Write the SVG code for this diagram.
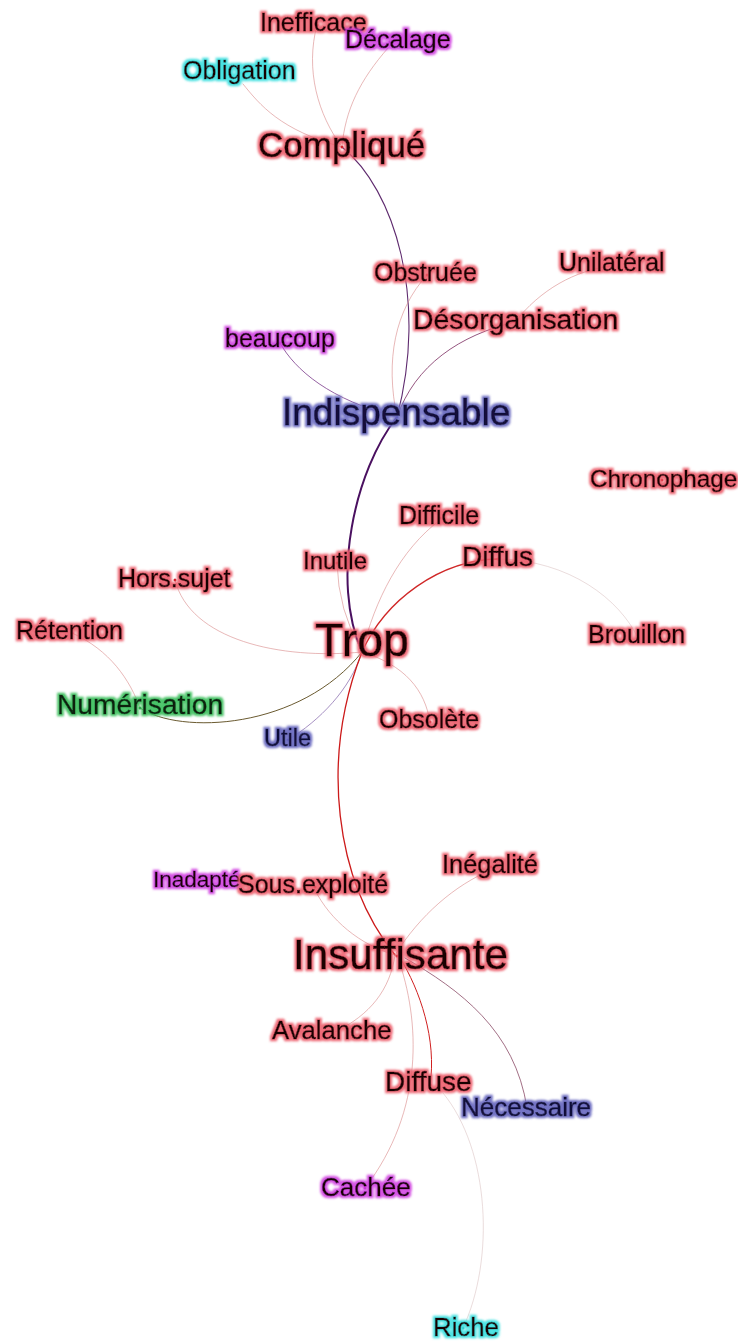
<svg xmlns="http://www.w3.org/2000/svg" width="738" height="1344" viewBox="0 0 738 1344">
<style>
text{font-family:"Liberation Sans",Arial,sans-serif;fill:#1a0606;stroke:#1a0606;stroke-width:0.5;}
.red text{filter:url(#hRed);}
.mag text{filter:url(#hMag);}
.cyan text{filter:url(#hCyan);}
.blue text{filter:url(#hBlue);fill:#12103a;stroke:#12103a;}
.green text{filter:url(#hGreen);fill:#0a200e;stroke:#0a200e;}
.dot{fill:#d0202a;}
.blue .dot{fill:#3030b0;}
.green .dot{fill:#20a040;}
.mag .dot{fill:#b020c0;}
.cyan .dot{fill:#20b0b0;}
#edges path{fill:none;stroke-linecap:round;}
.thin{stroke:#d88888;stroke-width:0.6;}
.pale{stroke:#dcc4c4;stroke-width:0.6;}
</style>
<defs>
<filter id="hRed" x="-20%" y="-40%" width="140%" height="180%"><feMorphology in="SourceAlpha" operator="dilate" radius="2.4" result="d"/><feGaussianBlur in="d" stdDeviation="1.2" result="b"/><feFlood flood-color="#ec5a68" flood-opacity="0.9"/><feComposite in2="b" operator="in" result="h"/><feMerge><feMergeNode in="h"/><feMergeNode in="SourceGraphic"/></feMerge></filter>
<filter id="hMag" x="-20%" y="-40%" width="140%" height="180%"><feMorphology in="SourceAlpha" operator="dilate" radius="2.4" result="d"/><feGaussianBlur in="d" stdDeviation="1.2" result="b"/><feFlood flood-color="#d040e0" flood-opacity="0.9"/><feComposite in2="b" operator="in" result="h"/><feMerge><feMergeNode in="h"/><feMergeNode in="SourceGraphic"/></feMerge></filter>
<filter id="hCyan" x="-20%" y="-40%" width="140%" height="180%"><feMorphology in="SourceAlpha" operator="dilate" radius="2.4" result="d"/><feGaussianBlur in="d" stdDeviation="1.2" result="b"/><feFlood flood-color="#40e0e0" flood-opacity="0.95"/><feComposite in2="b" operator="in" result="h"/><feMerge><feMergeNode in="h"/><feMergeNode in="SourceGraphic"/></feMerge></filter>
<filter id="hBlue" x="-20%" y="-40%" width="140%" height="180%"><feMorphology in="SourceAlpha" operator="dilate" radius="2.4" result="d"/><feGaussianBlur in="d" stdDeviation="1.2" result="b"/><feFlood flood-color="#6a6ac0" flood-opacity="0.95"/><feComposite in2="b" operator="in" result="h"/><feMerge><feMergeNode in="h"/><feMergeNode in="SourceGraphic"/></feMerge></filter>
<filter id="hGreen" x="-20%" y="-40%" width="140%" height="180%"><feMorphology in="SourceAlpha" operator="dilate" radius="2.4" result="d"/><feGaussianBlur in="d" stdDeviation="1.2" result="b"/><feFlood flood-color="#40c060" flood-opacity="0.95"/><feComposite in2="b" operator="in" result="h"/><feMerge><feMergeNode in="h"/><feMergeNode in="SourceGraphic"/></feMerge></filter>
</defs>
<rect width="738" height="1344" fill="#ffffff"/>
<g id="edges">
<path class="thin" d="M317,25 C305,70 318,115 342,147"/>
<path class="thin" stroke="#d890b0" d="M388,48 C360,80 345,110 342,147"/>
<path class="thin" stroke="#d8b8c0" d="M243,84 C260,105 280,130 342,147"/>
<path d="M342,147 C395,190 428,300 397,417" stroke="#5e2a6e" stroke-width="1.1"/>
<path class="thin" stroke="#b07890" d="M427,275 C395,310 385,360 397,417"/>
<path class="thin" stroke="#b06070" d="M612,266 C575,270 540,290 515,322"/>
<path d="M515,322 C460,335 415,365 397,417" stroke="#7a2a5e" stroke-width="0.8"/>
<path d="M280,343 C295,370 330,400 397,417" stroke="#7a3a8a" stroke-width="0.8"/>
<path d="M397,417 C355,470 330,580 362,652" stroke="#4a1060" stroke-width="2"/>
<path class="thin" d="M337,563 Q338,610 362,652"/>
<path class="thin" stroke="#e09090" d="M440,520 C400,550 375,600 362,652"/>
<path d="M498,559 C440,560 385,600 362,652" stroke="#d02828" stroke-width="1.3"/>
<path class="pale" stroke="#e0b0b0" d="M498,559 C570,560 620,600 638,638"/>
<path class="thin" d="M175,580 C190,640 280,660 362,652"/>
<path class="thin" stroke="#b09080" d="M72,633 C110,650 130,680 140,708"/>
<path d="M140,708 C180,735 300,730 362,652" stroke="#6a5a30" stroke-width="1"/>
<path d="M288,740 C320,720 350,690 362,652" stroke="#8060a8" stroke-width="0.7"/>
<path class="thin" d="M430,722 C425,690 405,665 362,652"/>
<path d="M362,652 C320,760 335,880 395,955" stroke="#cc1a1a" stroke-width="1.3"/>
<path class="thin" stroke="#d05060" d="M315,890 C330,920 360,945 395,955"/>
<path class="thin" d="M491,870 C455,885 420,915 395,955"/>
<path class="thin" stroke="#d05060" d="M395,955 C390,990 370,1015 335,1032"/>
<path d="M400,958 C420,990 437,1040 430,1085" stroke="#d02020" stroke-width="1"/>
<path class="thin" stroke="#e08890" d="M398,958 C420,1020 425,1110 365,1188"/>
<path d="M405,958 C460,990 515,1030 527,1108" stroke="#7a3050" stroke-width="0.7"/>
<path class="pale" d="M443,1093 C490,1150 495,1260 463,1328"/>
</g>
<g id="n-inefficace" class="red"><circle class="dot" cx="317" cy="25" r="1.5"/><text x="260" y="31" font-size="25">Inefficace</text></g>
<g id="n-decalage" class="mag"><circle class="dot" cx="390" cy="42" r="1.5"/><text x="345" y="48" font-size="25">Décalage</text></g>
<g id="n-obligation" class="cyan"><circle class="dot" cx="240" cy="73" r="1.5"/><text x="183" y="79" font-size="25">Obligation</text></g>
<g id="n-complique" class="red"><circle class="dot" cx="342" cy="147" r="1.5"/><text x="258" y="157" font-size="35">Compliqué</text></g>
<g id="n-obstruee" class="red"><circle class="dot" cx="427" cy="275" r="1.5"/><text x="374" y="281" font-size="25">Obstruée</text></g>
<g id="n-unilateral" class="red"><circle class="dot" cx="612" cy="266" r="1.5"/><text x="559" y="271" font-size="25">Unilatéral</text></g>
<g id="n-desorganisation" class="red"><circle class="dot" cx="515" cy="322" r="1.5"/><text x="413" y="329" font-size="28.4">Désorganisation</text></g>
<g id="n-beaucoup" class="mag"><circle class="dot" cx="280" cy="343" r="1.5"/><text x="225" y="347" font-size="25">beaucoup</text></g>
<g id="n-indispensable" class="blue"><circle class="dot" cx="397" cy="417" r="1.5"/><text x="282" y="425" font-size="37">Indispensable</text></g>
<g id="n-chronophage" class="red"><circle class="dot" cx="662" cy="480" r="1.5"/><text x="590" y="487" font-size="24.3">Chronophage</text></g>
<g id="n-difficile" class="red"><circle class="dot" cx="440" cy="518" r="1.5"/><text x="399" y="524" font-size="25">Difficile</text></g>
<g id="n-inutile" class="red"><circle class="dot" cx="337" cy="563" r="1.5"/><text x="303" y="569" font-size="24">Inutile</text></g>
<g id="n-diffus" class="red"><circle class="dot" cx="498" cy="559" r="1.5"/><text x="462" y="566" font-size="28">Diffus</text></g>
<g id="n-horssujet" class="red"><circle class="dot" cx="175" cy="580" r="1.5"/><text x="118" y="587" font-size="25">Hors.sujet</text></g>
<g id="n-retention" class="red"><circle class="dot" cx="72" cy="633" r="1.5"/><text x="16" y="639" font-size="25">Rétention</text></g>
<g id="n-trop" class="red"><circle class="dot" cx="362" cy="652" r="1.5"/><text x="315" y="656" font-size="46.5">Trop</text></g>
<g id="n-brouillon" class="red"><circle class="dot" cx="638" cy="638" r="1.5"/><text x="588" y="643" font-size="25">Brouillon</text></g>
<g id="n-numerisation" class="green"><circle class="dot" cx="140" cy="708" r="1.5"/><text x="57" y="714" font-size="28.2">Numérisation</text></g>
<g id="n-utile" class="blue"><circle class="dot" cx="288" cy="740" r="1.5"/><text x="264" y="746" font-size="23.5">Utile</text></g>
<g id="n-obsolete" class="red"><circle class="dot" cx="430" cy="722" r="1.5"/><text x="379" y="728" font-size="25">Obsolète</text></g>
<g id="n-inadapte" class="mag"><circle class="dot" cx="197" cy="880" r="1.5"/><text x="153" y="887" font-size="22.5">Inadapté</text></g>
<g id="n-sousexploite" class="red"><circle class="dot" cx="315" cy="887" r="1.5"/><text x="238" y="893" font-size="25">Sous.exploité</text></g>
<g id="n-inegalite" class="red"><circle class="dot" cx="491" cy="867" r="1.5"/><text x="442" y="873" font-size="25.4">Inégalité</text></g>
<g id="n-insuffisante" class="red"><circle class="dot" cx="397" cy="956" r="1.5"/><text x="293" y="969" font-size="42.2">Insuffisante</text></g>
<g id="n-avalanche" class="red"><circle class="dot" cx="332" cy="1032" r="1.5"/><text x="272" y="1039" font-size="25.7">Avalanche</text></g>
<g id="n-diffuse" class="red"><circle class="dot" cx="430" cy="1085" r="1.5"/><text x="385" y="1091" font-size="28">Diffuse</text></g>
<g id="n-necessaire" class="blue"><circle class="dot" cx="527" cy="1108" r="1.5"/><text x="461" y="1116" font-size="26">Nécessaire</text></g>
<g id="n-cachee" class="mag"><circle class="dot" cx="365" cy="1188" r="1.5"/><text x="321" y="1196" font-size="26">Cachée</text></g>
<g id="n-riche" class="cyan"><circle class="dot" cx="463" cy="1328" r="1.5"/><text x="433" y="1336" font-size="25.8">Riche</text></g>
</svg>
